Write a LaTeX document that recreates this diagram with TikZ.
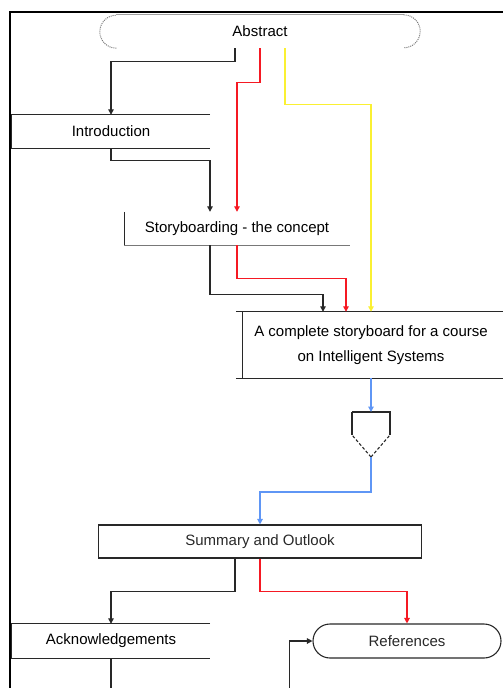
\documentclass[tikz,border=0pt]{standalone}
\usepackage{fontspec}
\setmainfont{Liberation Sans}
\usetikzlibrary{arrows.meta,shapes.misc}
\definecolor{lnblack}{RGB}{40,40,40}
\definecolor{lnred}{RGB}{245,25,35}
\definecolor{lnyellow}{RGB}{250,240,50}
\definecolor{lnblue}{RGB}{95,150,245}
\definecolor{lngray}{RGB}{120,120,120}

\begin{document}
\begin{tikzpicture}[x=1pt,y=-1pt,
    font=\fontsize{15}{19}\selectfont,
    box/.style={inner sep=0pt,minimum height=33pt,align=center},
    rim/.style={lnblack,line width=1.1pt},
    flow/.style={line width=1.2pt,-{Triangle[length=5.5pt,width=5.5pt]}},
    blk/.style={flow,lnblack},
    rd/.style={flow,lnred},
    yl/.style={flow,lnyellow},
    bl/.style={flow,lnblue}]
  \useasboundingbox (0,0) rectangle (503,688);
  \clip (0,0) rectangle (503,688);
  % Draw frame
  \draw[line width=1.6pt] (10,12) rectangle (540,720);

  % Draw boxes
  \node[box,minimum width=320pt] (abstract) at (260,31.5) {Abstract};
  \node[box,minimum width=198pt] (intro) at (111,131.5) {Introduction};
  \node[box,minimum width=225pt] (story) at (237,228.5) {Storyboarding - the concept};
  \node[box,minimum width=270pt,minimum height=66pt,font=\fontsize{15}{25}\selectfont]
    (complete) at (371,345) {A complete storyboard for a course\\on Intelligent Systems};
  \coordinate (merge) at (371,412);
  \coordinate (mergetip) at (371,457);
  \node[box,draw,rim,minimum width=323pt] (summary) at (260,541.5) {Summary and Outlook};
  \node[box,minimum width=198pt,minimum height=34pt] (ack) at (111,641) {Acknowledgements};
  \node[box,rounded rectangle,draw,rim,minimum width=188pt,minimum height=34pt]
    (refs) at (407,641) {References};

  % Draw box outlines
  \draw[lngray!70,line width=1pt] ([xshift=16.5pt]abstract.north west)
    -- ([xshift=-16.5pt]abstract.north east);
  \draw[lngray,line width=1pt,densely dotted] ([xshift=16.5pt]abstract.south west)
    arc (90:270:16.5) ([xshift=-16.5pt]abstract.north east) arc (270:450:16.5);
  \draw[rim] (intro.north east) -- (intro.north west) -- (intro.south west) -- (intro.south east);
  \draw[rim] (story.north west) -- (story.south west);
  \draw[lngray,line width=0.8pt] (story.south west) -- (story.south east);
  \draw[rim] (complete.north west) -- (complete.north east);
  \draw[rim] (complete.south west) -- (complete.south east);
  \draw[rim] ([xshift=7pt]complete.north west) -- ([xshift=7pt]complete.south west);
  \draw[rim] (merge) ++(-19,0) -- ++(38,0) -- ++(0,23);
  \draw[rim] (merge) ++(-19,0) -- ++(0,23);
  \draw[rim,densely dashed] (mergetip) -- ++(-19,-22) (mergetip) -- ++(19,-22);
  \draw[rim] (ack.north east) -- (ack.north west) -- (ack.south west) -- (ack.south east);

  % Draw connectors
  \draw[blk] ([xshift=-25pt]abstract.south) -- ++(0,13) -| (intro.north);
  \draw[rd] (abstract.south) -- ++(0,34) -| (story.north);
  \draw[yl] ([xshift=25pt]abstract.south) -- ++(0,56) -| (complete.north);
  \draw[blk] (intro.south) -- ++(0,12) -| ([xshift=-27pt]story.north);
  \draw[blk] ([xshift=-27pt]story.south) -- ++(0,49) -| ([xshift=-48pt]complete.north);
  \draw[rd] (story.south) -- ++(0,33) -| ([xshift=-25pt]complete.north);
  \draw[bl] (complete.south) -- (merge);
  \draw[bl] (mergetip) -- ++(0,35) -| (summary.north);
  \draw[blk] ([xshift=-25pt]summary.south) -- ++(0,33) -| (ack.north);
  \draw[rd] (summary.south) -- ++(0,33) -| (refs.north);
  \draw[blk] (ack.south) -- ++(0,50) -| ([xshift=-23pt]refs.west) -- (refs.west);
\end{tikzpicture}
\end{document}
